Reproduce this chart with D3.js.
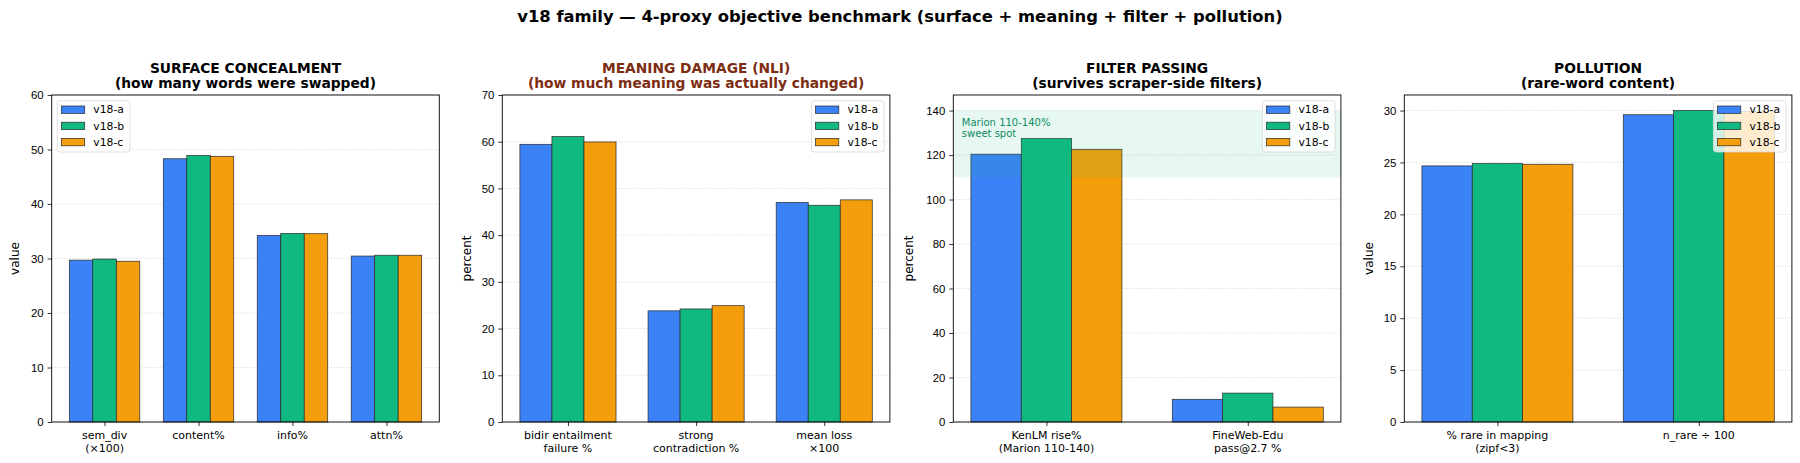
<!DOCTYPE html>
<html>
<head>
<meta charset="utf-8">
<script src="https://cdn.jsdelivr.net/npm/d3@7"></script>
<style>
    body { margin: 0; background: #fff; }
    svg { display: block; font-family: "DejaVu Sans", sans-serif; }
    .tick text { fill: #000; }
</style>
</head>
<body>
<svg id="chart" width="1800" height="463"></svg>
<script>
// series / legend
var series = ["v18-a", "v18-b", "v18-c"];
var colors = ["#3b82f6", "#10b981", "#f59e0b"];

// panel 1: surface concealment
var surfaceCats = [["sem_div", "(×100)"], ["content%"], ["info%"], ["attn%"]];
var surfaceA = [29.7, 48.3, 34.25, 30.45];
var surfaceB = [29.9, 48.9, 34.6, 30.6];
var surfaceC = [29.5, 48.75, 34.55, 30.6];

// panel 2: meaning damage
var meaningCats = [["bidir entailment", "failure %"], ["strong", "contradiction %"], ["mean loss", "×100"]];
var meaningA = [59.45, 23.8, 47.0];
var meaningB = [61.1, 24.2, 46.4];
var meaningC = [59.95, 24.9, 47.55];

// panel 3: filter passing
var filterCats = [["KenLM rise%", "(Marion 110-140)"], ["FineWeb-Edu", "pass@2.7 %"]];
var filterA = [120.4, 10.2];
var filterB = [127.4, 13.0];
var filterC = [122.6, 6.7];
var sweetSpot = [110, 140];

// panel 4: pollution
var pollutionCats = [["% rare in mapping", "(zipf<3)"], ["n_rare ÷ 100"]];
var pollutionA = [24.67, 29.6];
var pollutionB = [24.9, 30.0];
var pollutionC = [24.83, 29.9];

// axis limits and ticks
var yMax = [60, 70, 147, 31.5];
var yTicks = [d3.range(0, 61, 10), d3.range(0, 71, 10), d3.range(0, 141, 20), d3.range(0, 31, 5)];

var panels = [
    { title: ["SURFACE CONCEALMENT", "(how many words were swapped)"], titleColor: "#000", ylabel: "value",
      cats: surfaceCats, values: [surfaceA, surfaceB, surfaceC], legend: "left" },
    { title: ["MEANING DAMAGE (NLI)", "(how much meaning was actually changed)"], titleColor: "#7c2d12", ylabel: "percent",
      cats: meaningCats, values: [meaningA, meaningB, meaningC], legend: "right" },
    { title: ["FILTER PASSING", "(survives scraper-side filters)"], titleColor: "#000", ylabel: "percent",
      cats: filterCats, values: [filterA, filterB, filterC], legend: "right", span: sweetSpot },
    { title: ["POLLUTION", "(rare-word content)"], titleColor: "#000", ylabel: "value",
      cats: pollutionCats, values: [pollutionA, pollutionB, pollutionC], legend: "right" }
];

var svg = d3.select("#chart");

svg.append("text")
    .attr("x", 900)
    .attr("y", 22)
    .attr("text-anchor", "middle")
    .style("font-size", "16.4px")
    .style("font-weight", "bold")
    .text("v18 family — 4-proxy objective benchmark (surface + meaning + filter + pollution)");

var lefts = [51.7, 502.3, 953.3, 1404.3];
var axW = 387.6, axTop = 95, axBottom = 422;
var axH = axBottom - axTop;
var barW = 0.25;

panels.forEach(function(p, pi) {
    var n = p.cats.length;
    var m = 0.05 * (n - 1 + 0.75);
    var x = d3.scaleLinear()
        .domain([-0.375 - m, n - 1 + 0.375 + m])
        .range([0, axW]);
    var y = d3.scaleLinear()
        .domain([0, yMax[pi]])
        .range([axH, 0]);

    var g = svg.append("g")
        .attr("transform", "translate(" + lefts[pi] + "," + axTop + ")");

    // grid
    g.append("g")
        .selectAll("line")
        .data(yTicks[pi])
        .enter().append("line")
        .attr("x1", 0)
        .attr("x2", axW)
        .attr("y1", function(d) { return y(d); })
        .attr("y2", function(d) { return y(d); })
        .attr("stroke", "#c8c8c8")
        .attr("stroke-width", 0.8)
        .attr("stroke-dasharray", "1,2");

    // bars
    p.values.forEach(function(vals, si) {
        g.append("g")
            .selectAll("rect")
            .data(vals)
            .enter().append("rect")
            .attr("x", function(d, i) { return x(i + (si - 1) * barW - barW / 2); })
            .attr("width", x(barW) - x(0))
            .attr("y", function(d) { return y(d); })
            .attr("height", function(d) { return y(0) - y(d); })
            .attr("fill", colors[si])
            .attr("stroke", "#2a2a2a")
            .attr("stroke-width", 0.7);
    });

    // sweet spot band
    if (p.span) {
        g.append("rect")
            .attr("x", 0)
            .attr("width", axW)
            .attr("y", y(p.span[1]))
            .attr("height", y(p.span[0]) - y(p.span[1]))
            .attr("fill", "#10b981")
            .attr("fill-opacity", 0.1);
        var note = g.append("text")
            .attr("x", x(-0.42))
            .attr("y", y(138) + 10.7)
            .attr("fill", "#0b8a62")
            .style("font-size", "10px");
        note.append("tspan").attr("x", x(-0.42)).text("Marion 110-140%");
        note.append("tspan").attr("x", x(-0.42)).attr("dy", 11.6).text("sweet spot");
    }

    // axes
    var yAxis = g.append("g")
        .call(d3.axisLeft(y).tickValues(yTicks[pi]).tickSize(4).tickPadding(4).tickFormat(d3.format("d")));
    yAxis.select(".domain").remove();
    yAxis.selectAll("text").style("font-size", "11.4px");
    yAxis.selectAll("line").attr("stroke", "#000").attr("stroke-width", 0.8);

    var xAxis = g.append("g")
        .attr("transform", "translate(0," + axH + ")")
        .call(d3.axisBottom(x).tickValues(d3.range(n)).tickSize(4).tickFormat(""));
    xAxis.select(".domain").remove();
    xAxis.selectAll("line").attr("stroke", "#000").attr("stroke-width", 0.8);

    var xl = g.append("g")
        .selectAll("text")
        .data(p.cats)
        .enter().append("text")
        .attr("text-anchor", "middle")
        .attr("y", axH + 17.3)
        .style("font-size", "11px");
    xl.each(function(d, i) {
        var t = d3.select(this);
        d.forEach(function(line, li) {
            t.append("tspan")
                .attr("x", x(i))
                .attr("dy", li === 0 ? 0 : 12.6)
                .text(line);
        });
    });

    // frame
    g.append("rect")
        .attr("width", axW)
        .attr("height", axH)
        .attr("fill", "none")
        .attr("stroke", "#000")
        .attr("stroke-width", 0.9);

    // y label
    g.append("text")
        .attr("transform", "translate(" + (pi === 2 ? -44.3 : (pi === 0 ? -36.7 : -35.6)) + "," + (axH / 2) + ") rotate(-90)")
        .attr("text-anchor", "middle")
        .attr("dy", "0.35em")
        .style("font-size", "12px")
        .text(p.ylabel);

    // titles
    p.title.forEach(function(line, li) {
        g.append("text")
            .attr("x", axW / 2)
            .attr("y", -22.3 + li * 15.5)
            .attr("text-anchor", "middle")
            .attr("fill", p.titleColor)
            .style("font-size", "13.8px")
            .style("font-weight", "bold")
            .text(line);
    });

    // legend
    var lw = 72.7, lh = 51.3;
    var lx = p.legend === "left" ? 5.6 : axW - lw - 5.8;
    var leg = g.append("g")
        .attr("transform", "translate(" + lx + ",5.7)");
    leg.append("rect")
        .attr("width", lw)
        .attr("height", lh)
        .attr("rx", 3)
        .attr("fill", "#fff")
        .attr("fill-opacity", 0.8)
        .attr("stroke", "#d6d6d6")
        .attr("stroke-width", 0.8);
    var item = leg.selectAll(".item")
        .data(series)
        .enter().append("g")
        .attr("transform", function(d, i) { return "translate(0," + (9 + i * 16.2) + ")"; });
    item.append("rect")
        .attr("x", 4)
        .attr("y", -3.7)
        .attr("width", 23.4)
        .attr("height", 7.4)
        .attr("fill", function(d, i) { return colors[i]; })
        .attr("stroke", "#2a2a2a")
        .attr("stroke-width", 0.7);
    item.append("text")
        .attr("x", 36)
        .attr("dy", "0.35em")
        .style("font-size", "10.8px")
        .text(function(d) { return d; });
});
</script>
</body>
</html>
